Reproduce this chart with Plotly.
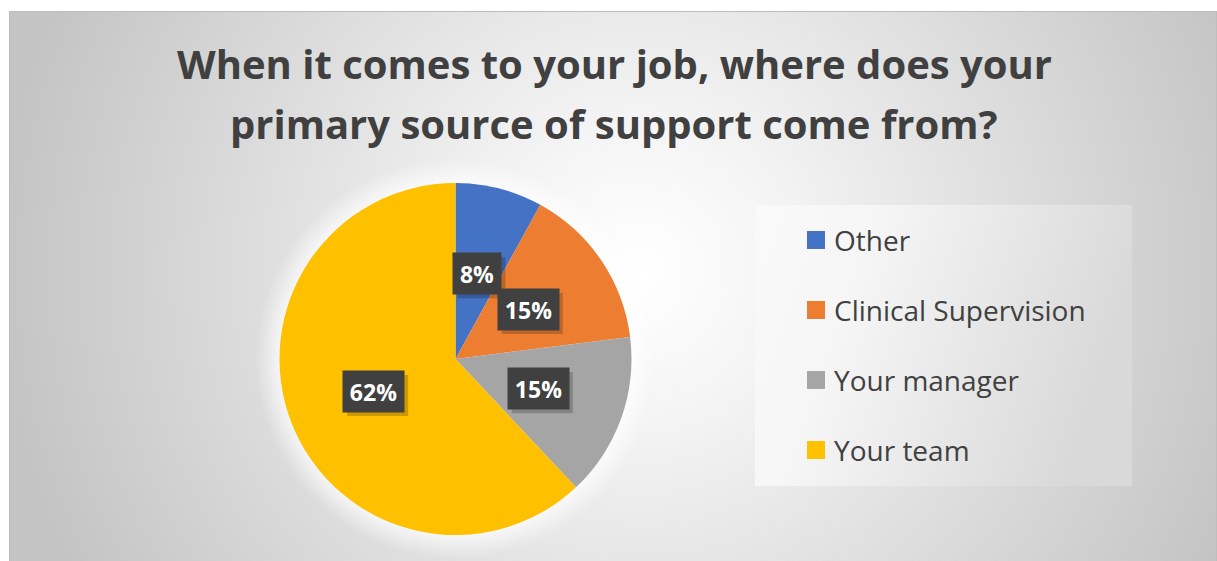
import base64
import math
import plotly.graph_objects as go

# Survey responses
categories = ["Other", "Clinical Supervision", "Your manager", "Your team"]
shares = [8, 15, 15, 62]
colors = ["#4472C4", "#ED7D31", "#A5A5A5", "#FFC000"]
title_lines = ["When it comes to your job, where does your",
               "primary source of support come from?"]

W, H = 1217, 561
# pie placement in pixels (centre and radius)
PCX, PCY, PR = 455.5, 359.0, 176.0
# legend block in pixels
LX0, LY0, LX1, LY1 = 755, 205, 1132, 486

text_col = "#404040"

# chart background: radial grey gradient, soft glow round the pie, legend panel
svg = f"""<svg xmlns='http://www.w3.org/2000/svg' width='{W}' height='{H}' viewBox='0 0 {W} {H}'>
<defs>
<radialGradient id='bg' gradientUnits='userSpaceOnUse' cx='640' cy='270' r='640'>
<stop offset='0' stop-color='#ffffff'/>
<stop offset='0.25' stop-color='#f3f3f3'/>
<stop offset='1' stop-color='#c4c4c4'/>
</radialGradient>
<radialGradient id='glow' gradientUnits='userSpaceOnUse' cx='{PCX}' cy='{PCY}' r='{PR + 24}'>
<stop offset='0.87' stop-color='#ffffff' stop-opacity='0.75'/>
<stop offset='1' stop-color='#ffffff' stop-opacity='0'/>
</radialGradient>
<linearGradient id='lg' x1='0' y1='0' x2='1' y2='0.25'>
<stop offset='0' stop-color='#f9f9f9'/>
<stop offset='0.3' stop-color='#f6f6f6'/>
<stop offset='1' stop-color='#d9d9d9'/>
</linearGradient>
</defs>
<rect x='0' y='0' width='{W}' height='{H}' fill='#ffffff'/>
<rect x='9.5' y='11.5' width='{W - 10}' height='{H - 10}' fill='url(#bg)' stroke='#bdbdbd' stroke-width='1'/>
<circle cx='{PCX}' cy='{PCY}' r='{PR + 24}' fill='url(#glow)'/>
<rect x='{LX0}' y='{LY0}' width='{LX1 - LX0}' height='{LY1 - LY0}' fill='url(#lg)'/>
</svg>"""
bg_uri = "data:image/svg+xml;base64," + base64.b64encode(svg.encode()).decode()

fig = go.Figure()
fig.add_trace(go.Pie(
    labels=categories,
    values=shares,
    sort=False,
    direction="clockwise",
    rotation=0,
    marker=dict(colors=colors, line=dict(width=0)),
    textinfo="none",
    hoverinfo="label+percent",
    showlegend=False,
    domain=dict(
        x=[(PCX - PR) / W, (PCX + PR) / W],
        y=[(H - PCY - PR) / H, (H - PCY + PR) / H],
    ),
))

annotations = []
shapes = []

# data labels: dark boxes halfway out along each slice's mid angle
total = sum(shares)
start = 0.0
for name, v in zip(categories, shares):
    frac = v / total
    mid = (start + frac / 2) * 2 * math.pi
    start += frac
    px = PCX + 0.5 * PR * math.sin(mid)
    py = PCY - 0.5 * PR * math.cos(mid)
    pct = f"{round(100 * frac)}%"
    bw, bh = 22 + 13 * len(pct), 41
    # soft drop shadow behind the label box
    shapes.append(dict(type="rect", xref="paper", yref="paper",
                       x0=(px - bw / 2 + 4) / W, x1=(px + bw / 2 + 4) / W,
                       y0=1 - (py + bh / 2 + 4) / H, y1=1 - (py - bh / 2 + 4) / H,
                       fillcolor="rgba(0,0,0,0.2)", line=dict(width=0), layer="above"))
    annotations.append(dict(text=f"<b>{pct}</b>", x=px / W, y=1 - py / H,
                            xref="paper", yref="paper", showarrow=False,
                            width=bw, height=bh, borderpad=0,
                            xanchor="center", yanchor="middle", bgcolor="#404040",
                            font=dict(family="Open Sans", size=23, color="#ffffff")))

# legend entries
for i, (name, c) in enumerate(zip(categories, colors)):
    ly = 240 + 70 * i
    shapes.append(dict(type="rect", xref="paper", yref="paper",
                       x0=807 / W, x1=825 / W, y0=1 - (ly + 9) / H, y1=1 - (ly - 9) / H,
                       fillcolor=c, line=dict(width=0), layer="above"))
    annotations.append(dict(text=name, x=832 / W, y=1 - ly / H, xref="paper", yref="paper",
                            showarrow=False, xanchor="left", yanchor="middle",
                            font=dict(family="Open Sans", size=28, color=text_col)))

# two-line title
for i, line in enumerate(title_lines):
    annotations.append(dict(text=f"<b>{line}</b>", x=614 / W, y=1 - (63 + 60 * i) / H,
                            xref="paper", yref="paper", showarrow=False,
                            xanchor="center", yanchor="middle",
                            font=dict(family="Open Sans", size=40, color=text_col)))

fig.update_layout(
    width=W, height=H,
    margin=dict(l=0, r=0, t=0, b=0),
    paper_bgcolor="rgba(0,0,0,0)",
    plot_bgcolor="rgba(0,0,0,0)",
    images=[dict(source=bg_uri, xref="paper", yref="paper", x=0, y=1,
                 sizex=1, sizey=1, sizing="stretch", layer="below")],
    annotations=annotations,
    shapes=shapes,
)

fig.write_html("out.html")
